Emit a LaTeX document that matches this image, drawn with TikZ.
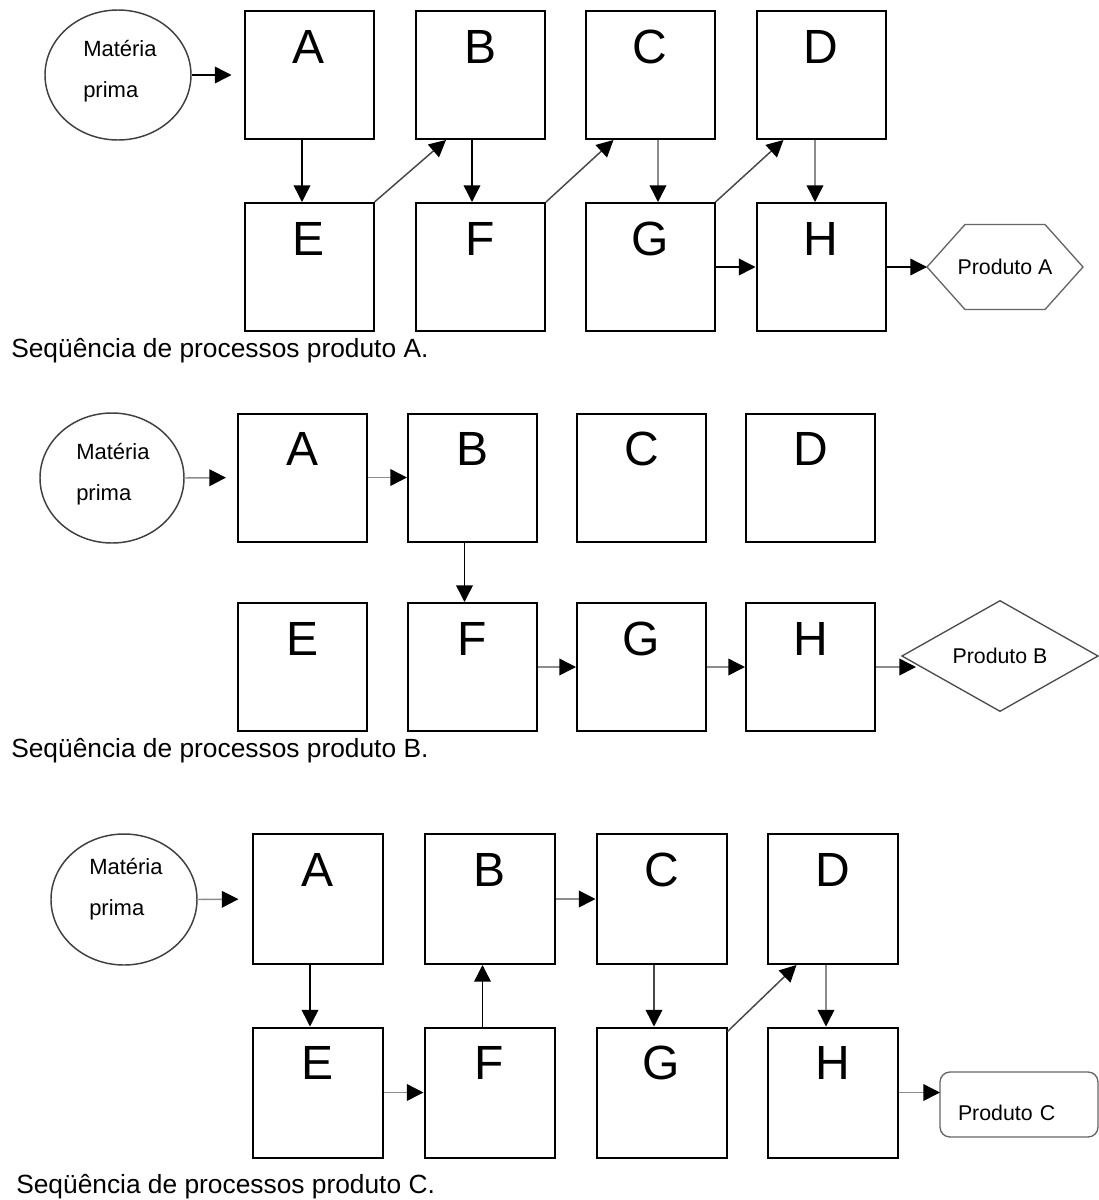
\documentclass[tikz,border=0pt]{standalone}
\usepackage{fontspec}
\setmainfont{Liberation Sans}
\usetikzlibrary{arrows.meta,shapes.geometric,calc}

\tikzset{
  box/.style={draw=black, line width=1.5pt, minimum width=96.75pt, minimum height=96pt,
    inner sep=0pt, font=\fontsize{36}{36}\selectfont, text height=39pt, text depth=57pt},
  boxC/.style={box, minimum width=97.5pt, minimum height=97.5pt, text depth=58.5pt},
  mp/.style={ellipse, draw=black!75, line width=1.1pt, inner sep=0pt,
    minimum width=109.5pt, minimum height=97.5pt},
  mpt/.style={inner sep=0pt, anchor=base west, font=\fontsize{16.5}{18}\selectfont},
  captext/.style={inner sep=0pt, anchor=base west, font=\fontsize{19.75}{22}\selectfont},
  prodfont/.style={font=\fontsize{16}{18}\selectfont},
  shp/.style={draw=black!60, line width=1pt},
  conn/.style={line width=1.1pt, draw=black, -{Triangle[length=12.5pt,width=12.5pt,color=black]}},
  gconn/.style={conn, draw=black!45},
  dconn/.style={conn, draw=black!72},
}

\begin{document}
\begin{tikzpicture}[x=0.75pt, y=-0.75pt]
\path[use as bounding box, fill=white] (0,0) rectangle (1099,1200);

% ---------------- Product A ----------------
\node[mp] (mpA) at (118,75) {};
\node[mpt] (mpA1) at (83,56) {Matéria};
\node[mpt] (mpA2) at (83,97) {prima};
\node[box] (aA) at (309,75) {A};
\node[box] (aB) at (480.5,75) {B};
\node[box] (aC) at (650,75) {C};
\node[box] (aD) at (821,75) {D};
\node[box] (aE) at (309,267) {E};
\node[box] (aF) at (480.5,267) {F};
\node[box] (aG) at (650,267) {G};
\node[box] (aH) at (821,267) {H};
\node[prodfont, inner sep=0pt, outer sep=0pt, minimum width=117pt, minimum height=63.75pt] (pA) at (1005,267) {Produto A};
\draw[shp] (pA.west) -- ($(pA.north west)+(38,0)$) -- ($(pA.north east)+(-38,0)$) -- (pA.east)
  -- ($(pA.south east)+(-38,0)$) -- ($(pA.south west)+(38,0)$) -- cycle;

\draw[conn, shorten >=9pt] (mpA.east) -- (aA.west);
\draw[conn] ($(aA.south)+(-7,0)$) -- ($(aE.north)+(-7,0)$);
\draw[dconn] (aE.north east) -- ($(aB.south west)+(31,0)$);
\draw[conn] ($(aB.south)+(-8.5,0)$) -- ($(aF.north)+(-8.5,0)$);
\draw[dconn] (aF.north east) -- ($(aC.south west)+(29,0)$);
\draw[gconn] ($(aC.south)+(8,0)$) -- ($(aG.north)+(8,0)$);
\draw[dconn] (aG.north east) -- ($(aD.south west)+(28,0)$);
\draw[gconn] ($(aD.south)+(-6,0)$) -- ($(aH.north)+(-6,0)$);
\draw[conn] (aG.east) -- (aH.west);
\draw[conn] (aH.east) -- (pA.west);

\node[captext] (capA) at (11,357) {Seqüência de processos produto A.};

% ---------------- Product B ----------------
\node[mp, minimum width=108pt] (mpB) at (112,478) {};
\node[mpt] (mpB1) at (76,459) {Matéria};
\node[mpt] (mpB2) at (76,500) {prima};
\node[box] (bA) at (302.5,477.5) {A};
\node[box] (bB) at (472.5,477.5) {B};
\node[box] (bC) at (641.5,477.5) {C};
\node[box] (bD) at (810.5,477.5) {D};
\node[box] (bE) at (302.5,667) {E};
\node[box] (bF) at (472.5,667) {F};
\node[box] (bG) at (641.5,667) {G};
\node[box] (bH) at (810.5,667) {H};
\node[diamond, draw=black!70, line width=1pt, inner sep=0pt, outer sep=0pt, prodfont,
  minimum width=147pt, minimum height=79.5pt] (pB) at (1000,656) {Produto B};

\draw[gconn, shorten >=8.25pt] (mpB.east) -- (bA.west);
\draw[gconn] (bA.east) -- (bB.west);
\draw[conn] ($(bB.south)+(-8,0)$) -- ($(bF.north)+(-8,0)$);
\draw[gconn] (bF.east) -- (bG.west);
\draw[gconn] (bG.east) -- (bH.west);
\draw[gconn] (bH.east) -- ($(pB.west)+(14,11)$);

\node[captext] (capB) at (11,757) {Seqüência de processos produto B.};

% ---------------- Product C ----------------
\node[mp, minimum height=98.25pt] (mpC) at (124,899.5) {};
\node[mpt] (mpC1) at (89,874) {Matéria};
\node[mpt] (mpC2) at (89,915) {prima};
\node[boxC] (cA) at (317.5,899) {A};
\node[boxC] (cB) at (489.5,899) {B};
\node[boxC] (cC) at (661.5,899) {C};
\node[boxC] (cD) at (832.5,899) {D};
\node[boxC] (cE) at (317.5,1092.5) {E};
\node[boxC] (cF) at (489.5,1092.5) {F};
\node[boxC] (cG) at (661.5,1092.5) {G};
\node[boxC] (cH) at (832.5,1092.5) {H};
\node[draw=black!60, line width=1pt, rounded corners=7.5pt, prodfont, outer sep=0pt,
  minimum width=118.5pt, minimum height=48.75pt, inner xsep=13.5pt, inner ysep=0pt,
  text width=91.5pt, align=left, text height=36.4pt, text depth=12.35pt] (pC) at (1019,1104.5) {Produto C};

\draw[gconn, shorten >=9.75pt] (mpC.east) -- (cA.west);
\draw[conn] ($(cA.south)+(-7.5,0)$) -- ($(cE.north)+(-7.5,0)$);
\draw[gconn] (cE.east) -- (cF.west);
\draw[conn] ($(cF.north)+(-7,0)$) -- ($(cB.south)+(-7,0)$);
\draw[gconn] (cB.east) -- (cC.west);
\draw[dconn] ($(cC.south)+(-7.5,0)$) -- ($(cG.north)+(-7.5,0)$);
\draw[dconn] ($(cG.north east)+(0,5)$) -- ($(cD.south west)+(30,0)$);
\draw[gconn] ($(cD.south)+(-6.5,0)$) -- ($(cH.north)+(-6.5,0)$);
\draw[gconn] (cH.east) -- (cH.east -| pC.west);

\node[captext] (capC) at (16,1193) {Seqüência de processos produto C.};
\end{tikzpicture}
\end{document}
